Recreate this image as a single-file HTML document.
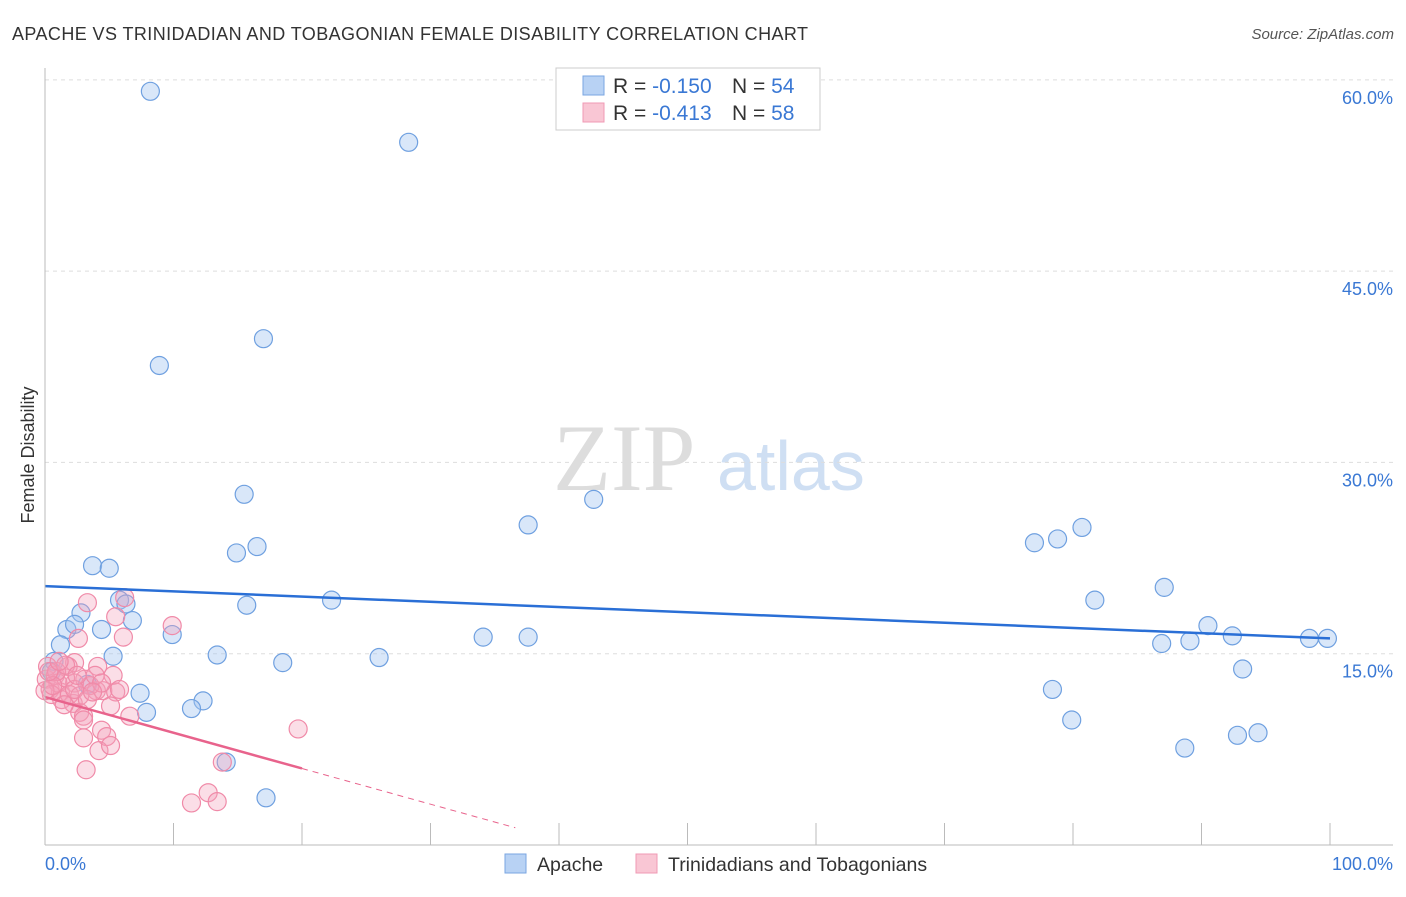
<!DOCTYPE html>
<html><head><meta charset="utf-8"><style>
body{margin:0;background:#fff;font-family:"Liberation Sans",sans-serif}
</style></head><body>
<svg id="c" width="1406" height="892" xmlns="http://www.w3.org/2000/svg">
<text x="12" y="40" font-size="18" fill="#333" textLength="796">APACHE VS TRINIDADIAN AND TOBAGONIAN FEMALE DISABILITY CORRELATION CHART</text>
<text x="1394" y="39" font-size="15" fill="#555" font-style="italic" text-anchor="end">Source: ZipAtlas.com</text>
<text x="34" y="455" font-size="18" fill="#333" text-anchor="middle" transform="rotate(-90 34 455)">Female Disability</text>
<text x="553" y="490" font-size="95" fill="#ddd" font-family="Liberation Serif,serif">ZIP</text>
<text x="717" y="490" font-size="70" fill="#cfdff3">atlas</text>
<g id="grid"></g><g id="pts"></g><g id="lines"></g>
<line x1="45" y1="68" x2="45" y2="845" stroke="#bbb"/>
<line x1="45" y1="845" x2="1393" y2="845" stroke="#bbb"/>
<text x="45" y="870" font-size="18" fill="#3a78d4">0.0%</text>
<text x="1393" y="870" font-size="18" fill="#3a78d4" text-anchor="end">100.0%</text>
<g>
<rect x="556" y="68" width="264" height="62" fill="#fff" stroke="#ccc"/>
<rect x="583" y="76" width="21" height="19" fill="#b8d2f4" stroke="#7aa6e2"/>
<rect x="583" y="103" width="21" height="19" fill="#f9c6d4" stroke="#f09ab4"/>
<text x="613" y="93" font-size="21" fill="#333">R = <tspan fill="#3a78d4">-0.150</tspan><tspan x="732">N = </tspan><tspan fill="#3a78d4">54</tspan></text>
<text x="613" y="120" font-size="21" fill="#333">R = <tspan fill="#3a78d4">-0.413</tspan><tspan x="732">N = </tspan><tspan fill="#3a78d4">58</tspan></text>
</g>
<g>
<rect x="505" y="854" width="21" height="19" fill="#b8d2f4" stroke="#7aa6e2"/>
<text x="537" y="871" font-size="19.5" fill="#333">Apache</text>
<rect x="636" y="854" width="21" height="19" fill="#f9c6d4" stroke="#f09ab4"/>
<text x="668" y="871" font-size="19.5" fill="#333">Trinidadians and Tobagonians</text>
</g>
</svg>
<script>
const yTicks=[15,30,45,60];
const xTicks=[0,10,20,30,40,50,60,70,80,90,100];
const apacheX=[8.2,28.3,8.9,17.0,15.5,16.5,14.9,3.7,5.0,42.7,37.6,5.8,6.3,15.7,22.3,2.8,6.8,1.7,2.3,4.4,9.9,1.2,5.3,0.7,13.4,18.5,26.0,34.1,37.6,3.3,7.4,12.3,11.4,7.9,14.1,17.2,77.0,78.8,80.7,81.7,87.1,90.5,86.9,89.1,92.4,98.4,99.8,93.2,78.4,79.9,88.7,92.8,94.4,0.5];
const apacheY=[59.1,55.1,37.6,39.7,27.5,23.4,22.9,21.9,21.7,27.1,25.1,19.2,18.9,18.8,19.2,18.2,17.6,16.9,17.3,16.9,16.5,15.7,14.8,14.4,14.9,14.3,14.7,16.3,16.3,12.6,11.9,11.3,10.7,10.4,6.5,3.7,23.7,24.0,24.9,19.2,20.2,17.2,15.8,16.0,16.4,16.2,16.2,13.8,12.2,9.8,7.6,8.6,8.8,13.6];
const trinX=[3.3,6.2,5.5,9.9,6.1,2.6,2.3,1.8,4.1,5.3,3.1,0.1,0.4,1.2,2.3,4.0,4.5,5.5,1.3,2.2,2.7,3.0,5.1,3.0,6.6,4.4,4.8,3.0,4.2,3.2,19.7,13.8,11.4,12.7,13.4,0.8,0.2,1.0,1.6,3.5,0.5,1.9,3.9,0.9,0,1.5,2.7,1.6,5.1,5.8,2.3,0.6,0.3,1.1,3.3,4.4,2.5,3.7];
const trinY=[19.0,19.4,17.9,17.2,16.3,16.2,14.3,14.0,14.0,13.3,13.0,13.0,12.2,12.0,12.7,12.1,12.1,12.0,11.4,11.1,10.4,10.1,10.9,9.8,10.1,9.0,8.5,8.4,7.4,5.9,9.1,6.5,3.3,4.1,3.4,13.3,14.0,12.7,13.1,12.5,11.8,11.8,13.3,13.6,12.1,11.0,11.7,14.1,7.8,12.2,12.2,12.5,13.6,14.4,11.4,12.7,13.3,12.0];
const apacheTrend=[20.3,16.2];
const trinTrend=[11.6,6.0];
const X=v=>45+v*12.85, Y=v=>845-v*12.753;
const NS='http://www.w3.org/2000/svg';
function mk(t,a,p){const e=document.createElementNS(NS,t);for(const k in a)e.setAttribute(k,a[k]);document.getElementById(p).appendChild(e);return e;}
yTicks.forEach(t=>{
 const l=mk('line',{x1:45,x2:1393,y1:Y(t),y2:Y(t),stroke:'#ddd','stroke-dasharray':'4,4'},'grid');
 
 
 const tx=mk('text',{x:1393,y:Y(t)+24,'font-size':18,fill:'#3a78d4','text-anchor':'end'},'grid');
 tx.textContent=t.toFixed(1)+'%';
 
 
});
xTicks.forEach(t=>{
 const l=mk('line',{x1:X(t),x2:X(t),y1:823,y2:845,stroke:'#bbb'},'grid');
 
 
});
apacheX.forEach((v,i)=>{
 const c=mk('circle',{cx:X(v),cy:Y(apacheY[i]),r:9,fill:'rgba(160,196,240,0.4)',stroke:'#6fa0e0','stroke-width':1.2},'pts');
 
 
});
trinX.forEach((v,i)=>{
 const c=mk('circle',{cx:X(v),cy:Y(trinY[i]),r:9,fill:'rgba(244,160,185,0.35)',stroke:'#f08aa8','stroke-width':1.2},'pts');
 
 
});
const b=mk('line',{x1:X(0),y1:Y(apacheTrend[0]),x2:X(100),y2:Y(apacheTrend[1]),stroke:'#2a6fd6','stroke-width':2.5},'lines');


const slope=(trinTrend[1]-trinTrend[0])/20;
const p=mk('line',{x1:X(0),y1:Y(trinTrend[0]),x2:X(20),y2:Y(trinTrend[1]),stroke:'#e8638c','stroke-width':2.5},'lines');


const xe=36.6;
const d=mk('line',{x1:X(20),y1:Y(trinTrend[1]),x2:X(xe),y2:Y(trinTrend[1]+slope*(xe-20)),stroke:'#e8638c','stroke-width':1,'stroke-dasharray':'6,5'},'lines');


</script>
</body></html>
